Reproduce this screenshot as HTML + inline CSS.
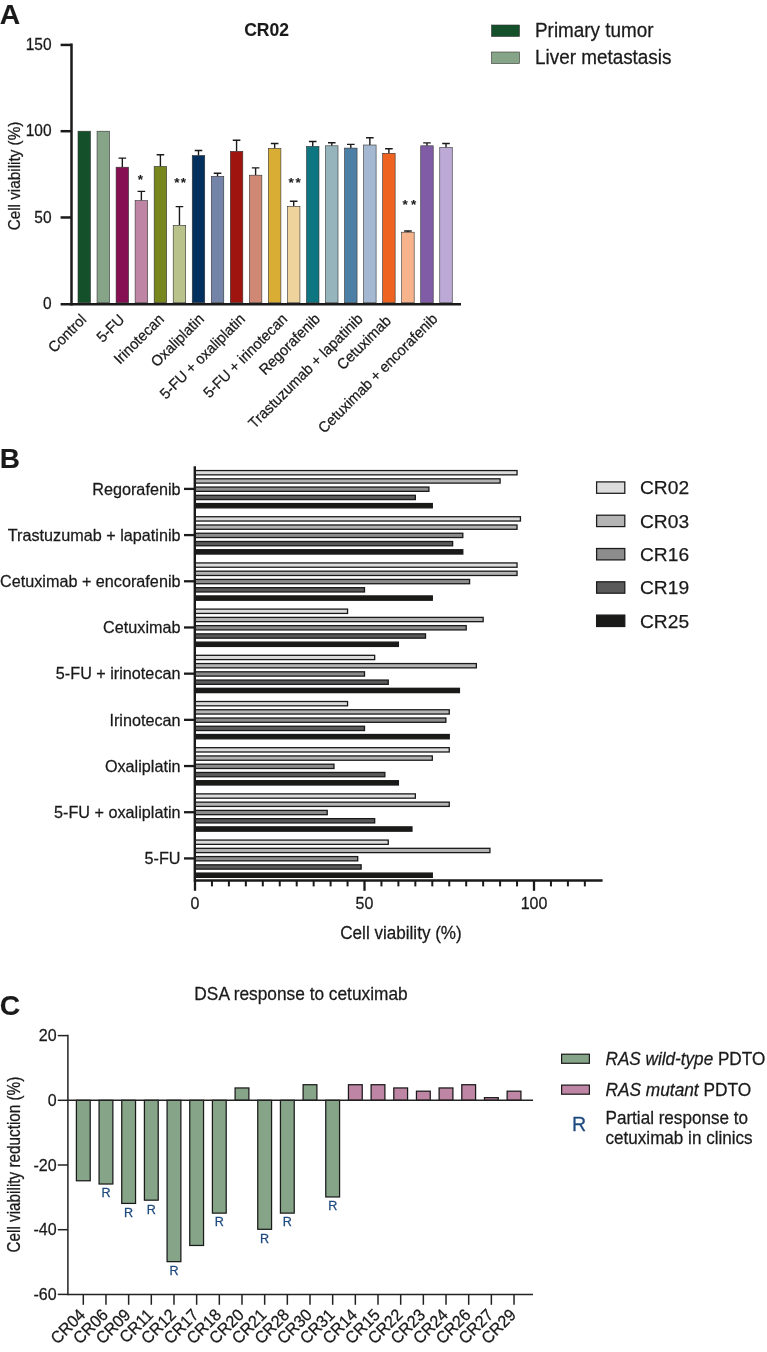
<!DOCTYPE html>
<html><head><meta charset="utf-8"><title>Figure</title>
<style>html,body{margin:0;padding:0;background:#fff;}body{width:767px;height:1352px;overflow:hidden;font-family:"Liberation Sans",sans-serif;}svg{display:block}</style>
</head><body>
<svg width="767" height="1352" viewBox="0 0 767 1352">
<rect width="767" height="1352" fill="#fff"/>
<g opacity="0.999">
<text transform="translate(-0.20,23.70)" font-size="28.3" text-anchor="start" font-weight="bold" font-family="Liberation Sans, sans-serif" fill="#1a1a1a" stroke="#1a1a1a" stroke-width="0.1" >A</text>
<text transform="translate(266.60,35.80)" font-size="17.5" text-anchor="middle" font-weight="bold" font-family="Liberation Sans, sans-serif" fill="#1a1a1a" stroke="#1a1a1a" stroke-width="0.1" >CR02</text>
<rect x="78.00" y="131.20" width="12.5" height="171.55" fill="#14502A" stroke="#333" stroke-width="0.6"/>
<rect x="97.04" y="131.20" width="12.5" height="171.55" fill="#86A588" stroke="#333" stroke-width="0.6"/>
<path d="M122.33 167.20V158.10M118.53 158.10H126.13" stroke="#1a1a1a" stroke-width="1.4" fill="none"/>
<rect x="116.08" y="167.20" width="12.5" height="135.55" fill="#850F52" stroke="#333" stroke-width="0.6"/>
<path d="M141.37 200.60V191.40M137.57 191.40H145.17" stroke="#1a1a1a" stroke-width="1.4" fill="none"/>
<rect x="135.12" y="200.60" width="12.5" height="102.15" fill="#BE85A5" stroke="#333" stroke-width="0.6"/>
<path d="M160.41 166.40V154.70M156.61 154.70H164.21" stroke="#1a1a1a" stroke-width="1.4" fill="none"/>
<rect x="154.16" y="166.40" width="12.5" height="136.35" fill="#78861E" stroke="#333" stroke-width="0.6"/>
<path d="M179.45 225.30V206.60M175.65 206.60H183.25" stroke="#1a1a1a" stroke-width="1.4" fill="none"/>
<rect x="173.20" y="225.30" width="12.5" height="77.45" fill="#B9C28A" stroke="#333" stroke-width="0.6"/>
<path d="M198.49 155.50V150.50M194.69 150.50H202.29" stroke="#1a1a1a" stroke-width="1.4" fill="none"/>
<rect x="192.24" y="155.50" width="12.5" height="147.25" fill="#00305F" stroke="#333" stroke-width="0.6"/>
<path d="M217.53 176.30V173.20M213.73 173.20H221.33" stroke="#1a1a1a" stroke-width="1.4" fill="none"/>
<rect x="211.28" y="176.30" width="12.5" height="126.45" fill="#7484A9" stroke="#333" stroke-width="0.6"/>
<path d="M236.57 151.30V140.30M232.77 140.30H240.37" stroke="#1a1a1a" stroke-width="1.4" fill="none"/>
<rect x="230.32" y="151.30" width="12.5" height="151.45" fill="#A01410" stroke="#333" stroke-width="0.6"/>
<path d="M255.61 175.20V167.90M251.81 167.90H259.41" stroke="#1a1a1a" stroke-width="1.4" fill="none"/>
<rect x="249.36" y="175.20" width="12.5" height="127.55" fill="#CE8873" stroke="#333" stroke-width="0.6"/>
<path d="M274.65 148.40V143.50M270.85 143.50H278.45" stroke="#1a1a1a" stroke-width="1.4" fill="none"/>
<rect x="268.40" y="148.40" width="12.5" height="154.35" fill="#D9AC33" stroke="#333" stroke-width="0.6"/>
<path d="M293.69 206.30V201.20M289.89 201.20H297.49" stroke="#1a1a1a" stroke-width="1.4" fill="none"/>
<rect x="287.44" y="206.30" width="12.5" height="96.45" fill="#EED49C" stroke="#333" stroke-width="0.6"/>
<path d="M312.73 146.40V141.50M308.93 141.50H316.53" stroke="#1a1a1a" stroke-width="1.4" fill="none"/>
<rect x="306.48" y="146.40" width="12.5" height="156.35" fill="#0D7680" stroke="#333" stroke-width="0.6"/>
<path d="M331.77 145.80V142.70M327.97 142.70H335.57" stroke="#1a1a1a" stroke-width="1.4" fill="none"/>
<rect x="325.52" y="145.80" width="12.5" height="156.95" fill="#96B4BC" stroke="#333" stroke-width="0.6"/>
<path d="M350.81 148.10V144.40M347.01 144.40H354.61" stroke="#1a1a1a" stroke-width="1.4" fill="none"/>
<rect x="344.56" y="148.10" width="12.5" height="154.65" fill="#4C7FA5" stroke="#333" stroke-width="0.6"/>
<path d="M369.85 145.00V137.80M366.05 137.80H373.65" stroke="#1a1a1a" stroke-width="1.4" fill="none"/>
<rect x="363.60" y="145.00" width="12.5" height="157.75" fill="#A4B8D2" stroke="#333" stroke-width="0.6"/>
<path d="M388.89 153.30V148.70M385.09 148.70H392.69" stroke="#1a1a1a" stroke-width="1.4" fill="none"/>
<rect x="382.64" y="153.30" width="12.5" height="149.45" fill="#EE6320" stroke="#333" stroke-width="0.6"/>
<path d="M407.93 232.20V231.00M404.13 231.00H411.73" stroke="#1a1a1a" stroke-width="1.4" fill="none"/>
<rect x="401.68" y="232.20" width="12.5" height="70.55" fill="#F7B48C" stroke="#333" stroke-width="0.6"/>
<path d="M426.97 145.80V142.90M423.17 142.90H430.77" stroke="#1a1a1a" stroke-width="1.4" fill="none"/>
<rect x="420.72" y="145.80" width="12.5" height="156.95" fill="#7F5CA5" stroke="#333" stroke-width="0.6"/>
<path d="M446.01 147.50V143.50M442.21 143.50H449.81" stroke="#1a1a1a" stroke-width="1.4" fill="none"/>
<rect x="439.76" y="147.50" width="12.5" height="155.25" fill="#BCA9D5" stroke="#333" stroke-width="0.6"/>
<path d="M71.5 43.6V305.4" stroke="#1a1a1a" stroke-width="2.5" fill="none"/>
<path d="M60.6 304.2H461" stroke="#1a1a1a" stroke-width="2.5" fill="none"/>
<path d="M60.6 217.47H71.5" stroke="#1a1a1a" stroke-width="2.5" fill="none"/>
<path d="M60.6 131.20H71.5" stroke="#1a1a1a" stroke-width="2.5" fill="none"/>
<path d="M60.6 44.93H71.5" stroke="#1a1a1a" stroke-width="2.5" fill="none"/>
<text transform="translate(51.60,309.45) scale(1,1.05)" font-size="15.5" text-anchor="end" font-family="Liberation Sans, sans-serif" fill="#1a1a1a" stroke="#1a1a1a" stroke-width="0.25" >0</text>
<text transform="translate(51.60,222.67) scale(1,1.05)" font-size="15.5" text-anchor="end" font-family="Liberation Sans, sans-serif" fill="#1a1a1a" stroke="#1a1a1a" stroke-width="0.25" >50</text>
<text transform="translate(51.60,136.40) scale(1,1.05)" font-size="15.5" text-anchor="end" font-family="Liberation Sans, sans-serif" fill="#1a1a1a" stroke="#1a1a1a" stroke-width="0.25" >100</text>
<text transform="translate(51.60,50.13) scale(1,1.05)" font-size="15.5" text-anchor="end" font-family="Liberation Sans, sans-serif" fill="#1a1a1a" stroke="#1a1a1a" stroke-width="0.25" >150</text>
<text transform="translate(19.90,176.00) rotate(-90) scale(1,1.07)" font-size="15.3" text-anchor="middle" font-family="Liberation Sans, sans-serif" fill="#1a1a1a" stroke="#1a1a1a" stroke-width="0.25" >Cell viability (%)</text>
<text transform="translate(140.40,184.25)" font-size="13.5" text-anchor="middle" font-weight="bold" font-family="Liberation Sans, sans-serif" fill="#1a1a1a" stroke="#1a1a1a" stroke-width="0.1" letter-spacing="0">*</text>
<text transform="translate(180.80,187.00)" font-size="13.5" text-anchor="middle" font-weight="bold" font-family="Liberation Sans, sans-serif" fill="#1a1a1a" stroke="#1a1a1a" stroke-width="0.1" letter-spacing="1.4">**</text>
<text transform="translate(295.40,187.00)" font-size="13.5" text-anchor="middle" font-weight="bold" font-family="Liberation Sans, sans-serif" fill="#1a1a1a" stroke="#1a1a1a" stroke-width="0.1" letter-spacing="1.6">**</text>
<text transform="translate(410.95,209.35)" font-size="13.5" text-anchor="middle" font-weight="bold" font-family="Liberation Sans, sans-serif" fill="#1a1a1a" stroke="#1a1a1a" stroke-width="0.1" letter-spacing="3.3">**</text>
<text transform="translate(87.30,320.50) rotate(-45) scale(1,1.04)" font-size="14.5" text-anchor="end" font-family="Liberation Sans, sans-serif" fill="#1a1a1a" stroke="#1a1a1a" stroke-width="0.25" >Control</text>
<text transform="translate(125.50,320.50) rotate(-45) scale(1,1.04)" font-size="14.5" text-anchor="end" font-family="Liberation Sans, sans-serif" fill="#1a1a1a" stroke="#1a1a1a" stroke-width="0.25" >5-FU</text>
<text transform="translate(164.90,320.10) rotate(-45) scale(1,1.04)" font-size="14.5" text-anchor="end" font-family="Liberation Sans, sans-serif" fill="#1a1a1a" stroke="#1a1a1a" stroke-width="0.25" >Irinotecan</text>
<text transform="translate(204.90,319.90) rotate(-45) scale(1,1.04)" font-size="14.5" text-anchor="end" font-family="Liberation Sans, sans-serif" fill="#1a1a1a" stroke="#1a1a1a" stroke-width="0.25" >Oxaliplatin</text>
<text transform="translate(246.00,319.90) rotate(-45) scale(1,1.04)" font-size="14.5" text-anchor="end" font-family="Liberation Sans, sans-serif" fill="#1a1a1a" stroke="#1a1a1a" stroke-width="0.25" >5-FU + oxaliplatin</text>
<text transform="translate(288.30,319.90) rotate(-45) scale(1,1.04)" font-size="14.5" text-anchor="end" font-family="Liberation Sans, sans-serif" fill="#1a1a1a" stroke="#1a1a1a" stroke-width="0.25" >5-FU + irinotecan</text>
<text transform="translate(321.00,319.90) rotate(-45) scale(1,1.04)" font-size="14.5" text-anchor="end" font-family="Liberation Sans, sans-serif" fill="#1a1a1a" stroke="#1a1a1a" stroke-width="0.25" >Regorafenib</text>
<text transform="translate(363.80,319.90) rotate(-45) scale(1,1.04)" font-size="14.5" text-anchor="end" font-family="Liberation Sans, sans-serif" fill="#1a1a1a" stroke="#1a1a1a" stroke-width="0.25" >Trastuzumab + lapatinib</text>
<text transform="translate(392.00,321.80) rotate(-45) scale(1,1.04)" font-size="14.5" text-anchor="end" font-family="Liberation Sans, sans-serif" fill="#1a1a1a" stroke="#1a1a1a" stroke-width="0.25" >Cetuximab</text>
<text transform="translate(438.50,319.90) rotate(-45) scale(1,1.04)" font-size="14.5" text-anchor="end" font-family="Liberation Sans, sans-serif" fill="#1a1a1a" stroke="#1a1a1a" stroke-width="0.25" >Cetuximab + encorafenib</text>
<rect x="491.5" y="25" width="28" height="11.5" fill="#14502A" stroke="#333" stroke-width="0.6"/>
<rect x="491.5" y="52" width="28" height="11.5" fill="#86A588" stroke="#333" stroke-width="0.6"/>
<text transform="translate(535.00,36.90) scale(1,1.05)" font-size="18.9" text-anchor="start" font-family="Liberation Sans, sans-serif" fill="#1a1a1a" stroke="#1a1a1a" stroke-width="0.25" >Primary tumor</text>
<text transform="translate(535.00,63.90) scale(1,1.05)" font-size="18.9" text-anchor="start" font-family="Liberation Sans, sans-serif" fill="#1a1a1a" stroke="#1a1a1a" stroke-width="0.25" >Liver metastasis</text>
<text transform="translate(-0.20,468.00)" font-size="28.0" text-anchor="start" font-weight="bold" font-family="Liberation Sans, sans-serif" fill="#1a1a1a" stroke="#1a1a1a" stroke-width="0.1" >B</text>
<rect x="195.0" y="470.55" width="322.05" height="4.3" fill="#DCDCDC" stroke="#1a1a1a" stroke-width="1.3"/>
<rect x="195.0" y="478.80" width="305.10" height="4.3" fill="#B4B4B4" stroke="#1a1a1a" stroke-width="1.3"/>
<rect x="195.0" y="487.05" width="233.91" height="4.3" fill="#8C8C8C" stroke="#1a1a1a" stroke-width="1.3"/>
<rect x="195.0" y="495.30" width="220.35" height="4.3" fill="#5A5A5A" stroke="#1a1a1a" stroke-width="1.3"/>
<rect x="195.0" y="503.55" width="237.30" height="4.3" fill="#1A1A18" stroke="#1a1a1a" stroke-width="1.3"/>
<path d="M184 488.90H195.0" stroke="#1a1a1a" stroke-width="2.3" fill="none"/>
<text transform="translate(180.50,494.70) scale(1,1.03)" font-size="16.2" text-anchor="end" font-family="Liberation Sans, sans-serif" fill="#1a1a1a" stroke="#1a1a1a" stroke-width="0.25" >Regorafenib</text>
<rect x="195.0" y="516.74" width="325.44" height="4.3" fill="#DCDCDC" stroke="#1a1a1a" stroke-width="1.3"/>
<rect x="195.0" y="524.99" width="322.05" height="4.3" fill="#B4B4B4" stroke="#1a1a1a" stroke-width="1.3"/>
<rect x="195.0" y="533.24" width="267.81" height="4.3" fill="#8C8C8C" stroke="#1a1a1a" stroke-width="1.3"/>
<rect x="195.0" y="541.49" width="257.64" height="4.3" fill="#5A5A5A" stroke="#1a1a1a" stroke-width="1.3"/>
<rect x="195.0" y="549.74" width="267.81" height="4.3" fill="#1A1A18" stroke="#1a1a1a" stroke-width="1.3"/>
<path d="M184 535.09H195.0" stroke="#1a1a1a" stroke-width="2.3" fill="none"/>
<text transform="translate(180.50,540.89) scale(1,1.03)" font-size="16.2" text-anchor="end" font-family="Liberation Sans, sans-serif" fill="#1a1a1a" stroke="#1a1a1a" stroke-width="0.25" >Trastuzumab + lapatinib</text>
<rect x="195.0" y="562.93" width="322.05" height="4.3" fill="#DCDCDC" stroke="#1a1a1a" stroke-width="1.3"/>
<rect x="195.0" y="571.18" width="322.05" height="4.3" fill="#B4B4B4" stroke="#1a1a1a" stroke-width="1.3"/>
<rect x="195.0" y="579.43" width="274.59" height="4.3" fill="#8C8C8C" stroke="#1a1a1a" stroke-width="1.3"/>
<rect x="195.0" y="587.68" width="169.50" height="4.3" fill="#5A5A5A" stroke="#1a1a1a" stroke-width="1.3"/>
<rect x="195.0" y="595.93" width="237.30" height="4.3" fill="#1A1A18" stroke="#1a1a1a" stroke-width="1.3"/>
<path d="M184 581.28H195.0" stroke="#1a1a1a" stroke-width="2.3" fill="none"/>
<text transform="translate(180.50,587.08) scale(1,1.03)" font-size="16.2" text-anchor="end" font-family="Liberation Sans, sans-serif" fill="#1a1a1a" stroke="#1a1a1a" stroke-width="0.25" >Cetuximab + encorafenib</text>
<rect x="195.0" y="609.12" width="152.55" height="4.3" fill="#DCDCDC" stroke="#1a1a1a" stroke-width="1.3"/>
<rect x="195.0" y="617.37" width="288.15" height="4.3" fill="#B4B4B4" stroke="#1a1a1a" stroke-width="1.3"/>
<rect x="195.0" y="625.62" width="271.20" height="4.3" fill="#8C8C8C" stroke="#1a1a1a" stroke-width="1.3"/>
<rect x="195.0" y="633.87" width="230.52" height="4.3" fill="#5A5A5A" stroke="#1a1a1a" stroke-width="1.3"/>
<rect x="195.0" y="642.12" width="203.40" height="4.3" fill="#1A1A18" stroke="#1a1a1a" stroke-width="1.3"/>
<path d="M184 627.47H195.0" stroke="#1a1a1a" stroke-width="2.3" fill="none"/>
<text transform="translate(180.50,633.27) scale(1,1.03)" font-size="16.2" text-anchor="end" font-family="Liberation Sans, sans-serif" fill="#1a1a1a" stroke="#1a1a1a" stroke-width="0.25" >Cetuximab</text>
<rect x="195.0" y="655.31" width="179.67" height="4.3" fill="#DCDCDC" stroke="#1a1a1a" stroke-width="1.3"/>
<rect x="195.0" y="663.56" width="281.37" height="4.3" fill="#B4B4B4" stroke="#1a1a1a" stroke-width="1.3"/>
<rect x="195.0" y="671.81" width="169.50" height="4.3" fill="#8C8C8C" stroke="#1a1a1a" stroke-width="1.3"/>
<rect x="195.0" y="680.06" width="193.23" height="4.3" fill="#5A5A5A" stroke="#1a1a1a" stroke-width="1.3"/>
<rect x="195.0" y="688.31" width="264.42" height="4.3" fill="#1A1A18" stroke="#1a1a1a" stroke-width="1.3"/>
<path d="M184 673.66H195.0" stroke="#1a1a1a" stroke-width="2.3" fill="none"/>
<text transform="translate(180.50,679.46) scale(1,1.03)" font-size="16.2" text-anchor="end" font-family="Liberation Sans, sans-serif" fill="#1a1a1a" stroke="#1a1a1a" stroke-width="0.25" >5-FU + irinotecan</text>
<rect x="195.0" y="701.50" width="152.55" height="4.3" fill="#DCDCDC" stroke="#1a1a1a" stroke-width="1.3"/>
<rect x="195.0" y="709.75" width="254.25" height="4.3" fill="#B4B4B4" stroke="#1a1a1a" stroke-width="1.3"/>
<rect x="195.0" y="718.00" width="250.86" height="4.3" fill="#8C8C8C" stroke="#1a1a1a" stroke-width="1.3"/>
<rect x="195.0" y="726.25" width="169.50" height="4.3" fill="#5A5A5A" stroke="#1a1a1a" stroke-width="1.3"/>
<rect x="195.0" y="734.50" width="254.25" height="4.3" fill="#1A1A18" stroke="#1a1a1a" stroke-width="1.3"/>
<path d="M184 719.85H195.0" stroke="#1a1a1a" stroke-width="2.3" fill="none"/>
<text transform="translate(180.50,725.65) scale(1,1.03)" font-size="16.2" text-anchor="end" font-family="Liberation Sans, sans-serif" fill="#1a1a1a" stroke="#1a1a1a" stroke-width="0.25" >Irinotecan</text>
<rect x="195.0" y="747.69" width="254.25" height="4.3" fill="#DCDCDC" stroke="#1a1a1a" stroke-width="1.3"/>
<rect x="195.0" y="755.94" width="237.30" height="4.3" fill="#B4B4B4" stroke="#1a1a1a" stroke-width="1.3"/>
<rect x="195.0" y="764.19" width="138.99" height="4.3" fill="#8C8C8C" stroke="#1a1a1a" stroke-width="1.3"/>
<rect x="195.0" y="772.44" width="189.84" height="4.3" fill="#5A5A5A" stroke="#1a1a1a" stroke-width="1.3"/>
<rect x="195.0" y="780.69" width="203.40" height="4.3" fill="#1A1A18" stroke="#1a1a1a" stroke-width="1.3"/>
<path d="M184 766.04H195.0" stroke="#1a1a1a" stroke-width="2.3" fill="none"/>
<text transform="translate(180.50,771.84) scale(1,1.03)" font-size="16.2" text-anchor="end" font-family="Liberation Sans, sans-serif" fill="#1a1a1a" stroke="#1a1a1a" stroke-width="0.25" >Oxaliplatin</text>
<rect x="195.0" y="793.88" width="220.35" height="4.3" fill="#DCDCDC" stroke="#1a1a1a" stroke-width="1.3"/>
<rect x="195.0" y="802.13" width="254.25" height="4.3" fill="#B4B4B4" stroke="#1a1a1a" stroke-width="1.3"/>
<rect x="195.0" y="810.38" width="132.21" height="4.3" fill="#8C8C8C" stroke="#1a1a1a" stroke-width="1.3"/>
<rect x="195.0" y="818.63" width="179.67" height="4.3" fill="#5A5A5A" stroke="#1a1a1a" stroke-width="1.3"/>
<rect x="195.0" y="826.88" width="216.96" height="4.3" fill="#1A1A18" stroke="#1a1a1a" stroke-width="1.3"/>
<path d="M184 812.23H195.0" stroke="#1a1a1a" stroke-width="2.3" fill="none"/>
<text transform="translate(180.50,818.03) scale(1,1.03)" font-size="16.2" text-anchor="end" font-family="Liberation Sans, sans-serif" fill="#1a1a1a" stroke="#1a1a1a" stroke-width="0.25" >5-FU + oxaliplatin</text>
<rect x="195.0" y="840.07" width="193.23" height="4.3" fill="#DCDCDC" stroke="#1a1a1a" stroke-width="1.3"/>
<rect x="195.0" y="848.32" width="294.93" height="4.3" fill="#B4B4B4" stroke="#1a1a1a" stroke-width="1.3"/>
<rect x="195.0" y="856.57" width="162.72" height="4.3" fill="#8C8C8C" stroke="#1a1a1a" stroke-width="1.3"/>
<rect x="195.0" y="864.82" width="166.11" height="4.3" fill="#5A5A5A" stroke="#1a1a1a" stroke-width="1.3"/>
<rect x="195.0" y="873.07" width="237.30" height="4.3" fill="#1A1A18" stroke="#1a1a1a" stroke-width="1.3"/>
<path d="M184 858.42H195.0" stroke="#1a1a1a" stroke-width="2.3" fill="none"/>
<text transform="translate(180.50,864.22) scale(1,1.03)" font-size="16.2" text-anchor="end" font-family="Liberation Sans, sans-serif" fill="#1a1a1a" stroke="#1a1a1a" stroke-width="0.25" >5-FU</text>
<path d="M194.8 466.2V881.7" stroke="#1a1a1a" stroke-width="2.4" fill="none"/>
<path d="M194.2 880.5H602.6" stroke="#1a1a1a" stroke-width="2.4" fill="none"/>
<path d="M195.00 880.5V890.8" stroke="#1a1a1a" stroke-width="2.3" fill="none"/>
<text transform="translate(195.00,909.00) scale(1,1.05)" font-size="16" text-anchor="middle" font-family="Liberation Sans, sans-serif" fill="#1a1a1a" stroke="#1a1a1a" stroke-width="0.25" >0</text>
<path d="M211.95 880.5V886.4" stroke="#1a1a1a" stroke-width="2.0" fill="none"/>
<path d="M228.90 880.5V886.4" stroke="#1a1a1a" stroke-width="2.0" fill="none"/>
<path d="M245.85 880.5V886.4" stroke="#1a1a1a" stroke-width="2.0" fill="none"/>
<path d="M262.80 880.5V886.4" stroke="#1a1a1a" stroke-width="2.0" fill="none"/>
<path d="M279.75 880.5V886.4" stroke="#1a1a1a" stroke-width="2.0" fill="none"/>
<path d="M296.70 880.5V886.4" stroke="#1a1a1a" stroke-width="2.0" fill="none"/>
<path d="M313.65 880.5V886.4" stroke="#1a1a1a" stroke-width="2.0" fill="none"/>
<path d="M330.60 880.5V886.4" stroke="#1a1a1a" stroke-width="2.0" fill="none"/>
<path d="M347.55 880.5V886.4" stroke="#1a1a1a" stroke-width="2.0" fill="none"/>
<path d="M364.50 880.5V890.8" stroke="#1a1a1a" stroke-width="2.3" fill="none"/>
<text transform="translate(364.50,909.00) scale(1,1.05)" font-size="16" text-anchor="middle" font-family="Liberation Sans, sans-serif" fill="#1a1a1a" stroke="#1a1a1a" stroke-width="0.25" >50</text>
<path d="M381.45 880.5V886.4" stroke="#1a1a1a" stroke-width="2.0" fill="none"/>
<path d="M398.40 880.5V886.4" stroke="#1a1a1a" stroke-width="2.0" fill="none"/>
<path d="M415.35 880.5V886.4" stroke="#1a1a1a" stroke-width="2.0" fill="none"/>
<path d="M432.30 880.5V886.4" stroke="#1a1a1a" stroke-width="2.0" fill="none"/>
<path d="M449.25 880.5V886.4" stroke="#1a1a1a" stroke-width="2.0" fill="none"/>
<path d="M466.20 880.5V886.4" stroke="#1a1a1a" stroke-width="2.0" fill="none"/>
<path d="M483.15 880.5V886.4" stroke="#1a1a1a" stroke-width="2.0" fill="none"/>
<path d="M500.10 880.5V886.4" stroke="#1a1a1a" stroke-width="2.0" fill="none"/>
<path d="M517.05 880.5V886.4" stroke="#1a1a1a" stroke-width="2.0" fill="none"/>
<path d="M534.00 880.5V890.8" stroke="#1a1a1a" stroke-width="2.3" fill="none"/>
<text transform="translate(534.00,909.00) scale(1,1.05)" font-size="16" text-anchor="middle" font-family="Liberation Sans, sans-serif" fill="#1a1a1a" stroke="#1a1a1a" stroke-width="0.25" >100</text>
<path d="M550.95 880.5V886.4" stroke="#1a1a1a" stroke-width="2.0" fill="none"/>
<path d="M567.90 880.5V886.4" stroke="#1a1a1a" stroke-width="2.0" fill="none"/>
<path d="M584.85 880.5V886.4" stroke="#1a1a1a" stroke-width="2.0" fill="none"/>
<text transform="translate(401.00,939.30) scale(1,1.07)" font-size="17.1" text-anchor="middle" font-family="Liberation Sans, sans-serif" fill="#1a1a1a" stroke="#1a1a1a" stroke-width="0.25" >Cell viability (%)</text>
<rect x="596.6" y="481.90" width="28.2" height="11.4" fill="#DCDCDC" stroke="#1a1a1a" stroke-width="1.25"/>
<text transform="translate(640.00,494.30)" font-size="19.2" text-anchor="start" font-family="Liberation Sans, sans-serif" fill="#1a1a1a" stroke="#1a1a1a" stroke-width="0.25" >CR02</text>
<rect x="596.6" y="515.20" width="28.2" height="11.4" fill="#B4B4B4" stroke="#1a1a1a" stroke-width="1.25"/>
<text transform="translate(640.00,527.60)" font-size="19.2" text-anchor="start" font-family="Liberation Sans, sans-serif" fill="#1a1a1a" stroke="#1a1a1a" stroke-width="0.25" >CR03</text>
<rect x="596.6" y="548.50" width="28.2" height="11.4" fill="#8C8C8C" stroke="#1a1a1a" stroke-width="1.25"/>
<text transform="translate(640.00,560.90)" font-size="19.2" text-anchor="start" font-family="Liberation Sans, sans-serif" fill="#1a1a1a" stroke="#1a1a1a" stroke-width="0.25" >CR16</text>
<rect x="596.6" y="581.80" width="28.2" height="11.4" fill="#5A5A5A" stroke="#1a1a1a" stroke-width="1.25"/>
<text transform="translate(640.00,594.20)" font-size="19.2" text-anchor="start" font-family="Liberation Sans, sans-serif" fill="#1a1a1a" stroke="#1a1a1a" stroke-width="0.25" >CR19</text>
<rect x="596.6" y="615.10" width="28.2" height="11.4" fill="#1A1A18" stroke="#1a1a1a" stroke-width="1.25"/>
<text transform="translate(640.00,627.50)" font-size="19.2" text-anchor="start" font-family="Liberation Sans, sans-serif" fill="#1a1a1a" stroke="#1a1a1a" stroke-width="0.25" >CR25</text>
<text transform="translate(-0.20,1015.30)" font-size="28.3" text-anchor="start" font-weight="bold" font-family="Liberation Sans, sans-serif" fill="#1a1a1a" stroke="#1a1a1a" stroke-width="0.1" >C</text>
<text transform="translate(301.00,999.60) scale(1,1.05)" font-size="17.3" text-anchor="middle" font-family="Liberation Sans, sans-serif" fill="#1a1a1a" stroke="#1a1a1a" stroke-width="0.25" >DSA response to cetuximab</text>
<rect x="76.40" y="1100.30" width="13.8" height="80.47" fill="#86A588" stroke="#1a1a1a" stroke-width="1.25"/>
<path d="M83.30 1294.4V1304.8" stroke="#222" stroke-width="1.5" fill="none"/>
<text transform="translate(86.30,1316.00) rotate(-45) scale(1,1.05)" font-size="16" text-anchor="end" font-family="Liberation Sans, sans-serif" fill="#1a1a1a" stroke="#1a1a1a" stroke-width="0.25" >CR04</text>
<rect x="99.07" y="1100.30" width="13.8" height="83.71" fill="#86A588" stroke="#1a1a1a" stroke-width="1.25"/>
<path d="M105.97 1294.4V1304.8" stroke="#222" stroke-width="1.5" fill="none"/>
<text transform="translate(105.97,1197.21) scale(1,1.05)" font-size="12.6" text-anchor="middle" font-family="Liberation Sans, sans-serif" fill="#1F4A7F" stroke="#1F4A7F" stroke-width="0.25" >R</text>
<text transform="translate(108.97,1316.00) rotate(-45) scale(1,1.05)" font-size="16" text-anchor="end" font-family="Liberation Sans, sans-serif" fill="#1a1a1a" stroke="#1a1a1a" stroke-width="0.25" >CR06</text>
<rect x="121.74" y="1100.30" width="13.8" height="103.12" fill="#86A588" stroke="#1a1a1a" stroke-width="1.25"/>
<path d="M128.64 1294.4V1304.8" stroke="#222" stroke-width="1.5" fill="none"/>
<text transform="translate(128.64,1216.62) scale(1,1.05)" font-size="12.6" text-anchor="middle" font-family="Liberation Sans, sans-serif" fill="#1F4A7F" stroke="#1F4A7F" stroke-width="0.25" >R</text>
<text transform="translate(131.64,1316.00) rotate(-45) scale(1,1.05)" font-size="16" text-anchor="end" font-family="Liberation Sans, sans-serif" fill="#1a1a1a" stroke="#1a1a1a" stroke-width="0.25" >CR09</text>
<rect x="144.41" y="1100.30" width="13.8" height="99.88" fill="#86A588" stroke="#1a1a1a" stroke-width="1.25"/>
<path d="M151.31 1294.4V1304.8" stroke="#222" stroke-width="1.5" fill="none"/>
<text transform="translate(151.31,1213.98) scale(1,1.05)" font-size="12.6" text-anchor="middle" font-family="Liberation Sans, sans-serif" fill="#1F4A7F" stroke="#1F4A7F" stroke-width="0.25" >R</text>
<text transform="translate(154.31,1316.00) rotate(-45) scale(1,1.05)" font-size="16" text-anchor="end" font-family="Liberation Sans, sans-serif" fill="#1a1a1a" stroke="#1a1a1a" stroke-width="0.25" >CR11</text>
<rect x="167.08" y="1100.30" width="13.8" height="161.35" fill="#86A588" stroke="#1a1a1a" stroke-width="1.25"/>
<path d="M173.98 1294.4V1304.8" stroke="#222" stroke-width="1.5" fill="none"/>
<text transform="translate(173.98,1274.85) scale(1,1.05)" font-size="12.6" text-anchor="middle" font-family="Liberation Sans, sans-serif" fill="#1F4A7F" stroke="#1F4A7F" stroke-width="0.25" >R</text>
<text transform="translate(176.98,1316.00) rotate(-45) scale(1,1.05)" font-size="16" text-anchor="end" font-family="Liberation Sans, sans-serif" fill="#1a1a1a" stroke="#1a1a1a" stroke-width="0.25" >CR12</text>
<rect x="189.75" y="1100.30" width="13.8" height="145.17" fill="#86A588" stroke="#1a1a1a" stroke-width="1.25"/>
<path d="M196.65 1294.4V1304.8" stroke="#222" stroke-width="1.5" fill="none"/>
<text transform="translate(199.65,1316.00) rotate(-45) scale(1,1.05)" font-size="16" text-anchor="end" font-family="Liberation Sans, sans-serif" fill="#1a1a1a" stroke="#1a1a1a" stroke-width="0.25" >CR17</text>
<rect x="212.42" y="1100.30" width="13.8" height="112.82" fill="#86A588" stroke="#1a1a1a" stroke-width="1.25"/>
<path d="M219.32 1294.4V1304.8" stroke="#222" stroke-width="1.5" fill="none"/>
<text transform="translate(219.32,1226.32) scale(1,1.05)" font-size="12.6" text-anchor="middle" font-family="Liberation Sans, sans-serif" fill="#1F4A7F" stroke="#1F4A7F" stroke-width="0.25" >R</text>
<text transform="translate(222.32,1316.00) rotate(-45) scale(1,1.05)" font-size="16" text-anchor="end" font-family="Liberation Sans, sans-serif" fill="#1a1a1a" stroke="#1a1a1a" stroke-width="0.25" >CR18</text>
<rect x="235.09" y="1087.96" width="13.8" height="12.34" fill="#86A588" stroke="#1a1a1a" stroke-width="1.25"/>
<path d="M241.99 1294.4V1304.8" stroke="#222" stroke-width="1.5" fill="none"/>
<text transform="translate(244.99,1316.00) rotate(-45) scale(1,1.05)" font-size="16" text-anchor="end" font-family="Liberation Sans, sans-serif" fill="#1a1a1a" stroke="#1a1a1a" stroke-width="0.25" >CR20</text>
<rect x="257.76" y="1100.30" width="13.8" height="129.00" fill="#86A588" stroke="#1a1a1a" stroke-width="1.25"/>
<path d="M264.66 1294.4V1304.8" stroke="#222" stroke-width="1.5" fill="none"/>
<text transform="translate(264.66,1242.50) scale(1,1.05)" font-size="12.6" text-anchor="middle" font-family="Liberation Sans, sans-serif" fill="#1F4A7F" stroke="#1F4A7F" stroke-width="0.25" >R</text>
<text transform="translate(267.66,1316.00) rotate(-45) scale(1,1.05)" font-size="16" text-anchor="end" font-family="Liberation Sans, sans-serif" fill="#1a1a1a" stroke="#1a1a1a" stroke-width="0.25" >CR21</text>
<rect x="280.43" y="1100.30" width="13.8" height="112.82" fill="#86A588" stroke="#1a1a1a" stroke-width="1.25"/>
<path d="M287.33 1294.4V1304.8" stroke="#222" stroke-width="1.5" fill="none"/>
<text transform="translate(287.33,1226.32) scale(1,1.05)" font-size="12.6" text-anchor="middle" font-family="Liberation Sans, sans-serif" fill="#1F4A7F" stroke="#1F4A7F" stroke-width="0.25" >R</text>
<text transform="translate(290.33,1316.00) rotate(-45) scale(1,1.05)" font-size="16" text-anchor="end" font-family="Liberation Sans, sans-serif" fill="#1a1a1a" stroke="#1a1a1a" stroke-width="0.25" >CR28</text>
<rect x="303.10" y="1084.72" width="13.8" height="15.58" fill="#86A588" stroke="#1a1a1a" stroke-width="1.25"/>
<path d="M310.00 1294.4V1304.8" stroke="#222" stroke-width="1.5" fill="none"/>
<text transform="translate(313.00,1316.00) rotate(-45) scale(1,1.05)" font-size="16" text-anchor="end" font-family="Liberation Sans, sans-serif" fill="#1a1a1a" stroke="#1a1a1a" stroke-width="0.25" >CR30</text>
<rect x="325.77" y="1100.30" width="13.8" height="96.65" fill="#86A588" stroke="#1a1a1a" stroke-width="1.25"/>
<path d="M332.67 1294.4V1304.8" stroke="#222" stroke-width="1.5" fill="none"/>
<text transform="translate(332.67,1210.15) scale(1,1.05)" font-size="12.6" text-anchor="middle" font-family="Liberation Sans, sans-serif" fill="#1F4A7F" stroke="#1F4A7F" stroke-width="0.25" >R</text>
<text transform="translate(335.67,1316.00) rotate(-45) scale(1,1.05)" font-size="16" text-anchor="end" font-family="Liberation Sans, sans-serif" fill="#1a1a1a" stroke="#1a1a1a" stroke-width="0.25" >CR31</text>
<rect x="348.44" y="1084.72" width="13.8" height="15.58" fill="#BE85A5" stroke="#1a1a1a" stroke-width="1.25"/>
<path d="M355.34 1294.4V1304.8" stroke="#222" stroke-width="1.5" fill="none"/>
<text transform="translate(358.34,1316.00) rotate(-45) scale(1,1.05)" font-size="16" text-anchor="end" font-family="Liberation Sans, sans-serif" fill="#1a1a1a" stroke="#1a1a1a" stroke-width="0.25" >CR14</text>
<rect x="371.11" y="1084.72" width="13.8" height="15.58" fill="#BE85A5" stroke="#1a1a1a" stroke-width="1.25"/>
<path d="M378.01 1294.4V1304.8" stroke="#222" stroke-width="1.5" fill="none"/>
<text transform="translate(381.01,1316.00) rotate(-45) scale(1,1.05)" font-size="16" text-anchor="end" font-family="Liberation Sans, sans-serif" fill="#1a1a1a" stroke="#1a1a1a" stroke-width="0.25" >CR15</text>
<rect x="393.78" y="1087.96" width="13.8" height="12.34" fill="#BE85A5" stroke="#1a1a1a" stroke-width="1.25"/>
<path d="M400.68 1294.4V1304.8" stroke="#222" stroke-width="1.5" fill="none"/>
<text transform="translate(403.68,1316.00) rotate(-45) scale(1,1.05)" font-size="16" text-anchor="end" font-family="Liberation Sans, sans-serif" fill="#1a1a1a" stroke="#1a1a1a" stroke-width="0.25" >CR22</text>
<rect x="416.45" y="1091.19" width="13.8" height="9.11" fill="#BE85A5" stroke="#1a1a1a" stroke-width="1.25"/>
<path d="M423.35 1294.4V1304.8" stroke="#222" stroke-width="1.5" fill="none"/>
<text transform="translate(426.35,1316.00) rotate(-45) scale(1,1.05)" font-size="16" text-anchor="end" font-family="Liberation Sans, sans-serif" fill="#1a1a1a" stroke="#1a1a1a" stroke-width="0.25" >CR23</text>
<rect x="439.12" y="1087.96" width="13.8" height="12.34" fill="#BE85A5" stroke="#1a1a1a" stroke-width="1.25"/>
<path d="M446.02 1294.4V1304.8" stroke="#222" stroke-width="1.5" fill="none"/>
<text transform="translate(449.02,1316.00) rotate(-45) scale(1,1.05)" font-size="16" text-anchor="end" font-family="Liberation Sans, sans-serif" fill="#1a1a1a" stroke="#1a1a1a" stroke-width="0.25" >CR24</text>
<rect x="461.79" y="1084.72" width="13.8" height="15.58" fill="#BE85A5" stroke="#1a1a1a" stroke-width="1.25"/>
<path d="M468.69 1294.4V1304.8" stroke="#222" stroke-width="1.5" fill="none"/>
<text transform="translate(471.69,1316.00) rotate(-45) scale(1,1.05)" font-size="16" text-anchor="end" font-family="Liberation Sans, sans-serif" fill="#1a1a1a" stroke="#1a1a1a" stroke-width="0.25" >CR26</text>
<rect x="484.46" y="1097.66" width="13.8" height="2.63" fill="#BE85A5" stroke="#1a1a1a" stroke-width="1.25"/>
<path d="M491.36 1294.4V1304.8" stroke="#222" stroke-width="1.5" fill="none"/>
<text transform="translate(494.36,1316.00) rotate(-45) scale(1,1.05)" font-size="16" text-anchor="end" font-family="Liberation Sans, sans-serif" fill="#1a1a1a" stroke="#1a1a1a" stroke-width="0.25" >CR27</text>
<rect x="507.13" y="1091.19" width="13.8" height="9.11" fill="#BE85A5" stroke="#1a1a1a" stroke-width="1.25"/>
<path d="M514.03 1294.4V1304.8" stroke="#222" stroke-width="1.5" fill="none"/>
<text transform="translate(517.03,1316.00) rotate(-45) scale(1,1.05)" font-size="16" text-anchor="end" font-family="Liberation Sans, sans-serif" fill="#1a1a1a" stroke="#1a1a1a" stroke-width="0.25" >CR29</text>
<path d="M67.9 1034.85V1295.15" stroke="#222" stroke-width="1.5" fill="none"/>
<path d="M67.9 1294.4H533" stroke="#222" stroke-width="1.5" fill="none"/>
<path d="M67.9 1100.3H533" stroke="#222" stroke-width="1.5" fill="none"/>
<path d="M57.8 1035.60H67.9" stroke="#222" stroke-width="1.5" fill="none"/>
<text transform="translate(56.60,1041.20) scale(1,1.05)" font-size="16" text-anchor="end" font-family="Liberation Sans, sans-serif" fill="#1a1a1a" stroke="#1a1a1a" stroke-width="0.25" >20</text>
<path d="M57.8 1100.30H67.9" stroke="#222" stroke-width="1.5" fill="none"/>
<text transform="translate(56.60,1105.90) scale(1,1.05)" font-size="16" text-anchor="end" font-family="Liberation Sans, sans-serif" fill="#1a1a1a" stroke="#1a1a1a" stroke-width="0.25" >0</text>
<path d="M57.8 1165.00H67.9" stroke="#222" stroke-width="1.5" fill="none"/>
<text transform="translate(56.60,1170.60) scale(1,1.05)" font-size="16" text-anchor="end" font-family="Liberation Sans, sans-serif" fill="#1a1a1a" stroke="#1a1a1a" stroke-width="0.25" >-20</text>
<path d="M57.8 1229.70H67.9" stroke="#222" stroke-width="1.5" fill="none"/>
<text transform="translate(56.60,1235.30) scale(1,1.05)" font-size="16" text-anchor="end" font-family="Liberation Sans, sans-serif" fill="#1a1a1a" stroke="#1a1a1a" stroke-width="0.25" >-40</text>
<path d="M57.8 1294.40H67.9" stroke="#222" stroke-width="1.5" fill="none"/>
<text transform="translate(56.60,1300.00) scale(1,1.05)" font-size="16" text-anchor="end" font-family="Liberation Sans, sans-serif" fill="#1a1a1a" stroke="#1a1a1a" stroke-width="0.25" >-60</text>
<text transform="translate(20.00,1164.60) rotate(-90) scale(1,1.16)" font-size="15.3" text-anchor="middle" font-family="Liberation Sans, sans-serif" fill="#1a1a1a" stroke="#1a1a1a" stroke-width="0.25" >Cell viability reduction (%)</text>
<rect x="561.6" y="1054.2" width="27.8" height="9.1" fill="#86A588" stroke="#1a1a1a" stroke-width="1.2"/>
<rect x="561.6" y="1085.1" width="27.8" height="9.1" fill="#BE85A5" stroke="#1a1a1a" stroke-width="1.2"/>
<text transform="translate(605.50,1064.90) scale(1,1.05)" font-size="17.15" text-anchor="start" font-family="Liberation Sans, sans-serif" fill="#1a1a1a" stroke="#1a1a1a" stroke-width="0.25" ><tspan font-style="italic">RAS wild-type</tspan> PDTO</text>
<text transform="translate(605.50,1095.70) scale(1,1.05)" font-size="17.3" text-anchor="start" font-family="Liberation Sans, sans-serif" fill="#1a1a1a" stroke="#1a1a1a" stroke-width="0.25" ><tspan font-style="italic">RAS mutant</tspan> PDTO</text>
<text transform="translate(572.00,1131.20) scale(1,1.05)" font-size="19.6" text-anchor="start" font-family="Liberation Sans, sans-serif" fill="#1F4A7F" stroke="#1F4A7F" stroke-width="0.25" >R</text>
<text transform="translate(605.50,1124.00) scale(1,1.05)" font-size="17.1" text-anchor="start" font-family="Liberation Sans, sans-serif" fill="#1a1a1a" stroke="#1a1a1a" stroke-width="0.25" >Partial response to</text>
<text transform="translate(605.50,1144.20) scale(1,1.05)" font-size="17.1" text-anchor="start" font-family="Liberation Sans, sans-serif" fill="#1a1a1a" stroke="#1a1a1a" stroke-width="0.25" >cetuximab in clinics</text>
</g>
</svg>
</body></html>
